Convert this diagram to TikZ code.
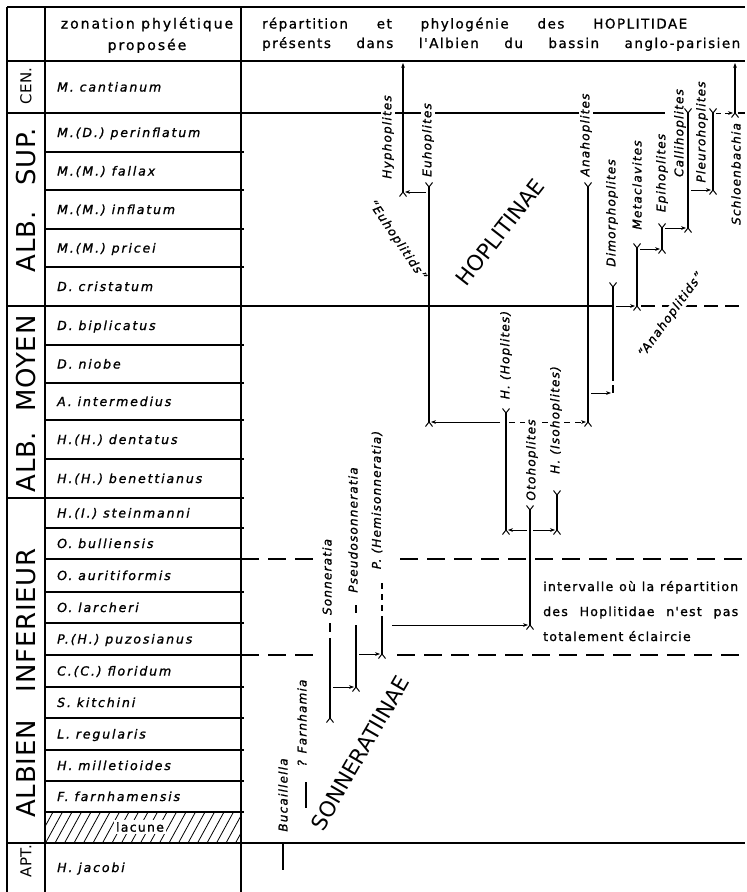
\documentclass[tikz,border=0pt]{standalone}
\usepackage{fontspec}
\setmainfont{DejaVu Sans}
\newfontfamily\fzone[LetterSpace=15,FakeBold=1.2]{DejaVu Sans}
\newfontfamily\fgen[LetterSpace=10,FakeBold=1.2]{DejaVu Sans}
\newfontfamily\fhead[LetterSpace=11,FakeBold=1]{DejaVu Sans}
\newfontfamily\fheadz[LetterSpace=14,FakeBold=1]{DejaVu Sans}
\newfontfamily\fstage[LetterSpace=3]{DejaVu Sans}
\newfontfamily\fbig{DejaVu Sans}
\usetikzlibrary{arrows.meta,calc}
\tikzset{
  topY/.pic={\draw[line width=1bp] (-3.5,-4.5) -- (0,0) -- (3.5,-4.5);},
  botY/.pic={\draw[line width=1bp] (-3.5,4.5) -- (0,0) -- (3.5,4.5);},
  tbl/.style={line width=1.7bp},
  bar/.style={line width=1.2bp},
  arr/.style={line width=1bp,-{Stealth[length=5bp,width=3.8bp]},shorten <=3bp,shorten >=2bp},
  dsh/.style={dash pattern=on 18bp off 9bp},
  zone/.style={anchor=base west,inner sep=0,font=\fzone\itshape\fontsize{12.5bp}{14bp}\selectfont},
  gen/.style={rotate=90,inner sep=1.2bp,fill=white,font=\fgen\itshape\fontsize{12bp}{14bp}\selectfont},
  gennf/.style={gen,fill=none},
  slant/.style={inner sep=1.2bp,font=\fgen\itshape\fontsize{12bp}{14bp}\selectfont},
  stage/.style={rotate=90,inner sep=0,font=\fstage\fontsize{26bp}{30bp}\selectfont},
  stagesm/.style={rotate=90,inner sep=0,font=\fstage\fontsize{15bp}{18bp}\selectfont},
  head/.style={inner sep=0,font=\fhead\fontsize{13.5bp}{16bp}\selectfont},
  headz/.style={inner sep=0,anchor=base,font=\fheadz\fontsize{14bp}{16bp}\selectfont},
  itext/.style={anchor=base west,inner sep=0,font=\fgen\fontsize{12.5bp}{15bp}\selectfont},
  big/.style={inner sep=0,font=\fbig\fontsize{21.5bp}{24bp}\selectfont},
}
\begin{document}
\begin{tikzpicture}[x=1bp,y=-1bp]
\useasboundingbox (0,0) rectangle (747,892);

% ---------- table frame ----------
\draw[tbl] (7,7) -- (745,7);
\draw[tbl] (7,61) -- (745,61);
\draw[tbl] (7,7) -- (7,892);
\draw[tbl] (45,7) -- (45,892);
\draw[tbl] (241,7) -- (241,892);
\draw[tbl] (7,498) -- (244,498);
\draw[tbl] (7,843) -- (745,843);
\foreach \y in {152,190,229,267,345,383,420,459,528,559,592,623,655,687,718,750,781,812}
  \draw[tbl] (45,\y) -- (244,\y);

% lacune hatching
\begin{scope}
  \clip (45,812) rectangle (241,843);
  \foreach \i in {0,...,22} \draw[line width=0.8bp] ({36+\i*9.5},843) -- ++(17,-31);
\end{scope}
\node[fill=white,inner sep=2bp,font=\fgen\fontsize{12.5bp}{15bp}\selectfont] (lac) at (140,827) {lacune};

% ---------- coordinates of lineages ----------
\coordinate (hyT) at (403,63);  \coordinate (hyB) at (403,192);
\coordinate (euT) at (429,187); \coordinate (euB) at (429,422);
\coordinate (anT) at (588,187); \coordinate (anB) at (588,422);
\coordinate (diT) at (613,287); \coordinate (diM) at (613,381);
\coordinate (diN) at (613,385); \coordinate (diB) at (613,393);
\coordinate (meT) at (637,248); \coordinate (meB) at (637,306);
\coordinate (epT) at (662,228); \coordinate (epB) at (662,249);
\coordinate (caT) at (688,113); \coordinate (caB) at (688,228);
\coordinate (plT) at (713,113); \coordinate (plB) at (713,190);
\coordinate (scT) at (735,63);  \coordinate (scB) at (735,113);
\coordinate (hoT) at (506,413); \coordinate (hoB) at (506,530);
\coordinate (otT) at (530,510); \coordinate (otB) at (530,625);
\coordinate (isT) at (557,495); \coordinate (isB) at (557,530);
\coordinate (soT) at (330,623); \coordinate (so1) at (330,632);
\coordinate (so2) at (330,638); \coordinate (soB) at (330,718);
\coordinate (psT) at (356,605); \coordinate (ps1) at (356,613);
\coordinate (ps2) at (356,625); \coordinate (psB) at (356,687);
\coordinate (heT) at (382,583); \coordinate (he1) at (382,618);
\coordinate (heB) at (382,654);
\coordinate (buT) at (283,843); \coordinate (buB) at (283,870);
\coordinate (faT) at (306,782); \coordinate (faB) at (306,808);
\coordinate (sL) at (7,113);    \coordinate (sE) at (665,113);
\coordinate (sR) at (745,113);
\coordinate (mL) at (7,306);    \coordinate (mR) at (745,306);

% ---------- horizontal boundary lines in the chart ----------
\draw[tbl] (sL) -- (sE);
\draw[tbl] ([xshift=3bp]scB) -- (sR);
\draw[tbl] (mL) -- (diT |- meB);
\draw[tbl,dash pattern=on 14bp off 7bp] ([xshift=4bp]meB) -- (mR);
\draw[tbl,dsh] (241,559) -- (318,559);
\draw[tbl,dsh] (400,559) -- (745,559);
\draw[tbl,dsh] (241,655) -- (320,655);
\draw[tbl,dsh] (397,655) -- (745,655);

% ---------- lineage bars ----------
\draw[bar,-{Stealth[length=5bp,width=3.8bp]}] (hyB) -- (hyT);
\draw[bar,-{Stealth[length=5bp,width=3.8bp]}] (scB) -- (scT);
\draw[bar] (euT) -- (euB);
\draw[bar] (anT) -- (anB);
\draw[bar] (diT) -- (diM);
\draw[bar] (diN) -- (diB);
\draw[bar] (meT) -- (meB);
\draw[bar] (epT) -- (epB);
\draw[bar] (caT) -- (caB);
\draw[bar] (plT) -- (plB);
\draw[bar] (hoT) -- (hoB);
\draw[bar] (otT) -- (otB);
\draw[bar] (isT) -- (isB);
\draw[bar] (soT) -- (so1);
\draw[bar] (so2) -- (soB);
\draw[bar] (psT) -- (ps1);
\draw[bar] (ps2) -- (psB);
\draw[bar,dash pattern=on 6bp off 5bp] (heT) -- (he1);
\draw[bar] (he1) -- (heB);
\draw[bar] (buT) -- (buB);
\draw[bar] (faT) -- (faB);

\foreach \p in {euT,anT,diT,meT,epT,caT,plT,hoT,otT,isT} \pic at (\p) {topY};
\foreach \p in {hyB,euB,anB,meB,epB,caB,plB,scB,hoB,otB,isB,soB,psB,heB} \pic at (\p) {botY};

% ---------- derivation arrows ----------
\draw[arr] (euT |- hyB) -- (hyB);
\draw[arr,shorten <=6bp] (hoB |- euB) -- (euB);
\draw[arr,dash pattern=on 6bp off 5bp] (hoB |- anB) -- (anB);
\draw[arr] (anT |- diB) -- (diB);
\draw[arr] (diT |- meB) -- (meB);
\draw[arr] (meT |- epB) -- (epB);
\draw[arr] (epT |- caB) -- (caB);
\draw[arr] (caT |- plB) -- (plB);
\draw[arr,dash pattern=on 5bp off 4bp] (plT) -- (scB);
\draw[arr] (otT |- hoB) -- (hoB);
\draw[arr] (otT |- isB) -- (isB);
\draw[arr,shorten <=10bp] (heB |- otB) -- (otB);
\draw[arr] (psB |- heB) -- (heB);
\draw[arr] (soB |- psB) -- (psB);

% ---------- headers ----------
\node[headz] (h1) at (147,28.5) {zonation phylétique};
\node[headz] (h2) at (147,50) {proposée};
\node[head,anchor=base west] (h3) at (262,28.5) {\makebox[425bp][s]{répartition et phylogénie des HOPLITIDAE}};
\node[head,anchor=base west] (h4) at (262,48) {\makebox[478bp][s]{présents dans l'Albien du bassin anglo-parisien}};

% ---------- stage labels ----------
\node[stagesm] (st1) at (26,86) {CEN.};
\node[stage] (st2) at (26,200) {ALB.\hspace{26bp}SUP.};
\node[stage] (st3) at (26,404) {ALB.\hspace{20bp}MOYEN};
\node[stage] (st4) at (26,683) {ALBIEN\hspace{28bp}INFERIEUR};
\node[stagesm] (st5) at (26,861) {APT.};

% ---------- zones ----------
\node[zone] (z1) at (57,91.5) {M. cantianum};
\node[zone] (z2) at (57,137) {M.(D.) perinflatum};
\node[zone] (z3) at (57,175.5) {M.(M.) fallax};
\node[zone] (z4) at (57,214) {M.(M.) inflatum};
\node[zone] (z5) at (57,252.5) {M.(M.) pricei};
\node[zone] (z6) at (57,291) {D. cristatum};
\node[zone] (z7) at (57,330) {D. biplicatus};
\node[zone] (z8) at (57,368.5) {D. niobe};
\node[zone] (z9) at (57,406) {A. intermedius};
\node[zone] (z10) at (57,444) {H.(H.) dentatus};
\node[zone] (z11) at (57,483) {H.(H.) benettianus};
\node[zone] (z12) at (57,517.5) {H.(I.) steinmanni};
\node[zone] (z13) at (57,548) {O. bulliensis};
\node[zone] (z14) at (57,580) {O. auritiformis};
\node[zone] (z15) at (57,612) {O. larcheri};
\node[zone] (z16) at (57,643.5) {P.(H.) puzosianus};
\node[zone] (z17) at (57,675.5) {C.(C.) floridum};
\node[zone] (z18) at (57,707) {S. kitchini};
\node[zone] (z19) at (57,738.5) {L. regularis};
\node[zone] (z20) at (57,770) {H. milletioides};
\node[zone] (z21) at (57,801) {F. farnhamensis};
\node[zone] (z22) at (57,872) {H. jacobi};

% ---------- genus labels ----------
\node[gen] (gHy) at (388,137) {Hyphoplites};
\node[gen] (gEu) at (428,140) {Euhoplites};
\node[gen] (gAn) at (586,135) {Anahoplites};
\node[gen] (gDi) at (612,213) {Dimorphoplites};
\node[gen] (gMe) at (637,185) {Metaclavites};
\node[gen] (gEp) at (662,173) {Epihoplites};
\node[gennf] (gCa) at (680,133) {Callihoplites};
\node[gennf] (gPl) at (702,132) {Pleurohoplites};
\node[gen] (gSc) at (736,174) {Schloenbachia};
\node[gen] (gHo) at (506,355) {H. (Hoplites)};
\node[gen] (gOt) at (532,460) {Otohoplites};
\node[gen] (gIs) at (556,420) {H. (Isohoplites)};
\node[gen] (gSo) at (327,577) {Sonneratia};
\node[gen] (gPs) at (353,530) {Pseudosonneratia};
\node[gen] (gHe) at (377,500) {P. (Hemisonneratia)};
\node[gennf] (gBu) at (283,795) {Bucaillella};
\node[gennf] (gFa) at (302,723) {? Farnhamia};

\node[slant,rotate=-56] (qEu) at (397,240) {“Euhoplitids”};
\node[slant,rotate=54,fill=white] (qAn) at (671,315) {“Anahoplitids”};
\node[big,rotate=52] (bHo) at (500,232) {HOPLITINAE};
\node[big,rotate=60] (bSo) at (360,753) {SONNERATIINAE};

% ---------- interval note ----------
\node[itext] (n1) at (543,591) {\makebox[195bp][s]{intervalle où la répartition}};
\node[itext] (n2) at (543,616) {\makebox[195bp][s]{des Hoplitidae n'est pas}};
\node[itext] (n3) at (543,641) {totalement éclaircie};
\end{tikzpicture}
\end{document}
